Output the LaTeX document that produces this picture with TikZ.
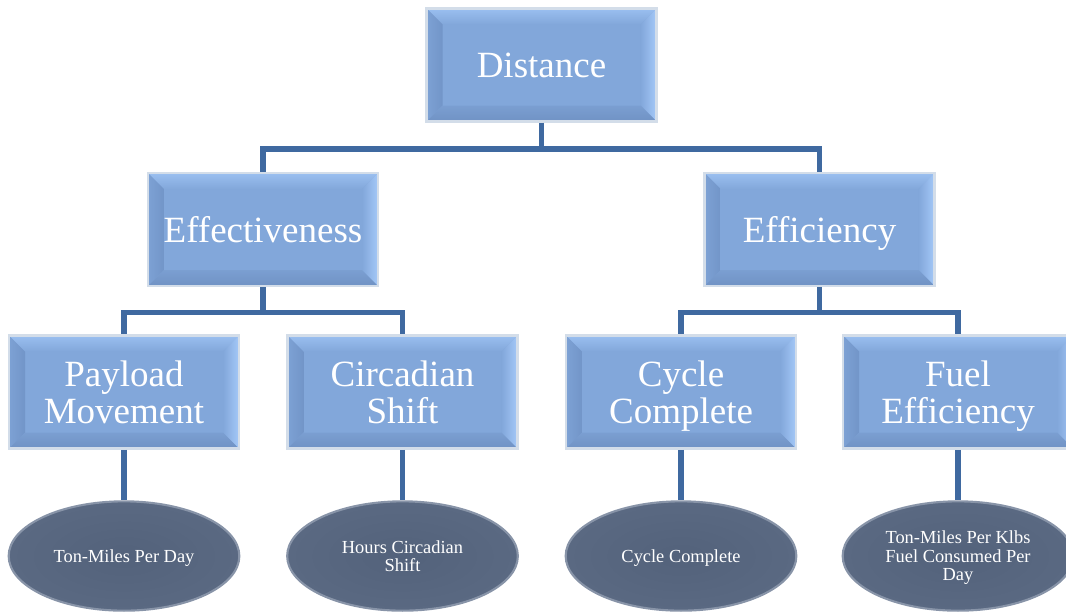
\documentclass[tikz,border=0pt]{standalone}
\usepackage{fontspec}
\setmainfont{Liberation Serif}
\usetikzlibrary{shapes.geometric,calc}
\definecolor{facecol}{HTML}{82A7DA}
\definecolor{topcol}{HTML}{9ABFF0}
\definecolor{leftcol}{HTML}{7295C8}
\definecolor{rightcol}{HTML}{A4C8F8}
\definecolor{botcol}{HTML}{7092C4}
\definecolor{bordcol}{HTML}{D3DDE9}
\definecolor{conncol}{HTML}{3F69A0}
\definecolor{ellin}{HTML}{53627B}
\definecolor{ellout}{HTML}{5A6982}
\definecolor{ellrim}{HTML}{8894A8}
\newcommand{\nodep}[1]{\raisebox{0pt}[\height][0pt]{#1}}
\tikzset{
  bevelbox/.style={rectangle, minimum width=172.5pt, minimum height=84.75pt,
    inner sep=0pt, fill=facecol, draw=bordcol, line width=2.2pt, text=white,
    align=center, font=\fontsize{27.75}{27.75}\selectfont,
    path picture={
      \coordinate (nw) at (path picture bounding box.north west);
      \coordinate (ne) at (path picture bounding box.north east);
      \coordinate (sw) at (path picture bounding box.south west);
      \coordinate (se) at (path picture bounding box.south east);
      \shade[top color=topcol, bottom color=facecol] (nw) -- (ne) -- ($(ne)+(-12pt,-12pt)$) -- ($(nw)+(12pt,-12pt)$) -- cycle;
      \shade[left color=facecol!70!leftcol, right color=leftcol] (nw) -- (sw) -- ($(sw)+(12pt,12pt)$) -- ($(nw)+(12pt,-12pt)$) -- cycle;
      \shade[left color=facecol, right color=rightcol] (ne) -- (se) -- ($(se)+(-12pt,12pt)$) -- ($(ne)+(-12pt,-12pt)$) -- cycle;
      \shade[top color=facecol!60!botcol, bottom color=botcol] (sw) -- (se) -- ($(se)+(-12pt,12pt)$) -- ($(sw)+(12pt,12pt)$) -- cycle;
    }},
  ovalbox/.style={ellipse, minimum width=173pt, minimum height=82pt, inner sep=0pt,
    inner color=ellin, outer color=ellout, draw=ellrim, line width=1.6pt,
    text=white, align=center, font=\fontsize{13.8}{13.8}\selectfont},
  conn/.style={draw=conncol, line width=3.8pt, line cap=butt, line join=miter}
}
\begin{document}
\begin{tikzpicture}[x=0.75pt,y=-0.75pt]
\useasboundingbox (0,0) rectangle (1066,612);
\node[bevelbox] (dist) at (541.5,65) {Distance};
\node[bevelbox] (eff) at (263,229.5) {Effectiveness};
\node[bevelbox] (effi) at (819.5,229.5) {\nodep{Efficiency}};
\node[bevelbox] (pay) at (124,392) {Payload\\Movement};
\node[bevelbox] (circ) at (402.5,392) {Circadian\\Shift};
\node[bevelbox] (cyc) at (681,392) {Cycle\\\nodep{Complete}};
\node[bevelbox] (fuel) at (958,392) {Fuel\\\nodep{Efficiency}};
\node[ovalbox] (tm) at (124,556) {\nodep{Ton-Miles Per Day}};
\node[ovalbox] (hc) at (402.5,556) {Hours Circadian\\Shift};
\node[ovalbox] (cc) at (681,556) {\nodep{Cycle Complete}};
\node[ovalbox] (tk) at (958,556) {Ton-Miles Per Klbs\\Fuel Consumed Per\\\nodep{Day}};
\draw[conn] (dist.south) -- ++(0,26) -| (eff.north);
\draw[conn] (dist.south) -- ++(0,26) -| (effi.north);
\draw[conn] (eff.south) -- ++(0,25) -| (pay.north);
\draw[conn] (eff.south) -- ++(0,25) -| (circ.north);
\draw[conn] (effi.south) -- ++(0,25) -| (cyc.north);
\draw[conn] (effi.south) -- ++(0,25) -| (fuel.north);
\draw[conn] (pay.south) -- (tm.north);
\draw[conn] (circ.south) -- (hc.north);
\draw[conn] (cyc.south) -- (cc.north);
\draw[conn] (fuel.south) -- (tk.north);
\end{tikzpicture}
\end{document}
